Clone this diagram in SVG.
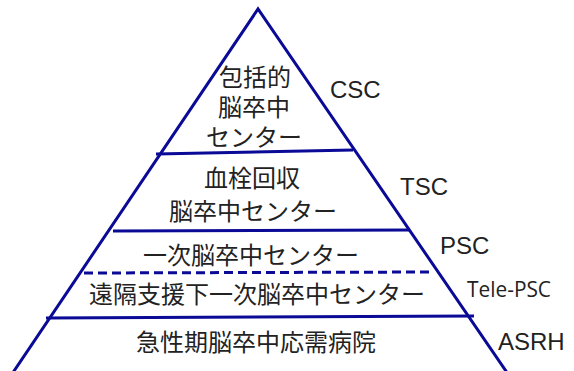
<svg xmlns="http://www.w3.org/2000/svg" width="574" height="371" viewBox="0 0 574 371">
<style>
.ln{stroke:#0a0a96;stroke-width:3;fill:none}
.jp{font-family:"Noto Sans CJK JP","Noto Sans CJK SC",sans-serif;font-size:24px;fill:#222;text-anchor:middle}
.jp2{font-family:"Liberation Sans","Noto Sans CJK JP",sans-serif;font-size:24px;fill:#222;text-anchor:middle}
.en{font-family:"Liberation Sans",Arial,sans-serif;font-size:24px;fill:#222}
</style>
<rect width="574" height="371" fill="#fff"/>
<g id="connectors">
<polyline class="ln" points="12,374 258,9 508,374" stroke-linejoin="miter"/>
<line class="ln" x1="156" y1="154" x2="353" y2="150"/>
<line class="ln" x1="113" y1="231" x2="410" y2="230"/>
<line class="ln" x1="84" y1="273" x2="434" y2="272" stroke-dasharray="9,5"/>
<line class="ln" x1="46" y1="318" x2="474" y2="316"/>
</g>
<g id="csc">
<text class="jp2" x="255" y="86">包括的</text>
<text class="jp2" x="254" y="116">脳卒中</text>
<text class="jp2" x="254" y="146">センター</text>
<text class="en" x="330" y="98">CSC</text>
</g>
<g id="tsc">
<text class="jp" x="252" y="187">血栓回収</text>
<text class="jp" x="253" y="220">脳卒中センター</text>
<text class="en" x="400" y="195">TSC</text>
</g>
<g id="psc">
<text class="jp" x="251" y="264">一次脳卒中センター</text>
<text class="en" x="440" y="254">PSC</text>
</g>
<g id="telepsc">
<text class="jp" x="257" y="303">遠隔支援下一次脳卒中センター</text>
<text x="467" y="297" font-family="'Open Sans',sans-serif" font-size="21" fill="#222" textLength="84" lengthAdjust="spacingAndGlyphs">Tele-PSC</text>
</g>
<g id="asrh">
<text class="jp" x="256" y="351">急性期脳卒中応需病院</text>
<text class="en" x="498" y="350">ASRH</text>
</g>
</svg>
